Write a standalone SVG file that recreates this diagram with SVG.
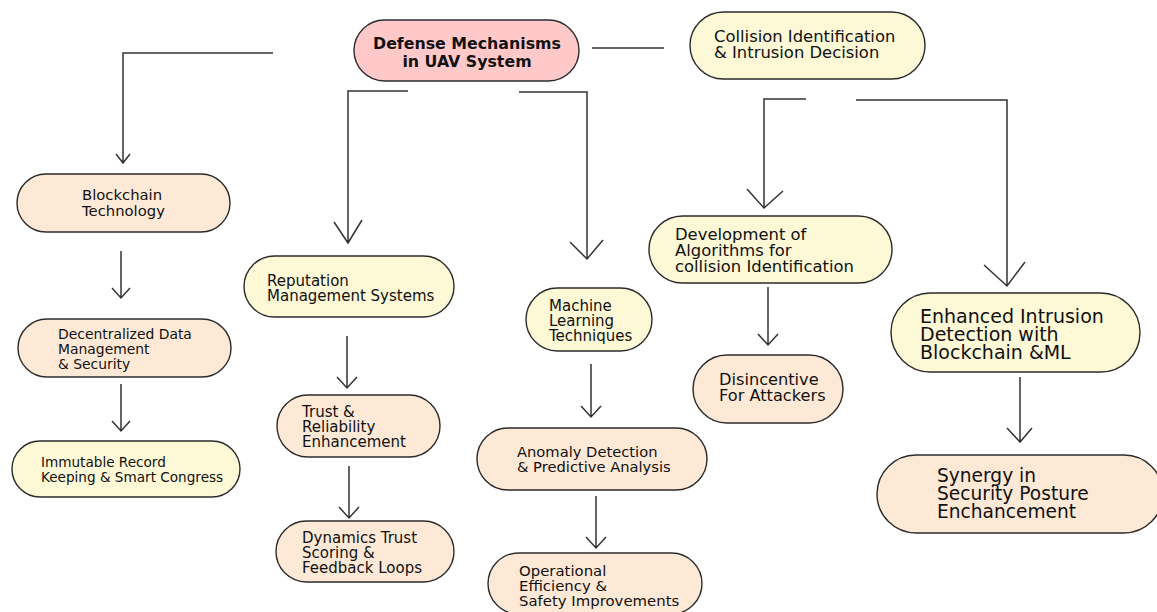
<svg xmlns="http://www.w3.org/2000/svg" width="1157" height="612" viewBox="0 0 1157 612">
<style>
.n{stroke:#2b2b2b;stroke-width:1.4}
.root{fill:#ffc9c9}
.y{fill:#fdf8d6}
.p{fill:#fde9d5}
text{font-family:"DejaVu Sans","Liberation Sans",sans-serif;fill:#111}
.b{font-weight:bold}
.c{fill:none;stroke:#333;stroke-width:1.5}
</style>
<rect width="1157" height="612" fill="#ffffff"/>
<g id="connectors">
<path class="c" d="M273,53 H123 V163 M116,154 L123,163 L130,154"/>
<path class="c" d="M408,91 H348 V243 M334,222 L348,243 L362,220"/>
<path class="c" d="M519,92 H587 V259 M570,242 L587,259 L603,240"/>
<path class="c" d="M592,48 H664"/>
<path class="c" d="M806,99 H764 V208 M747,189 L764,208 L783,191"/>
<path class="c" d="M856,100 H1007 V286 M984,265 L1007,286 L1025,262"/>
<path class="c" d="M121,251 V298 M112,288 L121,298 L130,288"/>
<path class="c" d="M121,384 V431 M112,421 L121,431 L130,421"/>
<path class="c" d="M347,336 V388 M337,377 L347,388 L357,377"/>
<path class="c" d="M349,466 V518 M339,507 L349,518 L359,507"/>
<path class="c" d="M591,364 V417 M581,406 L591,417 L601,406"/>
<path class="c" d="M596,496 V548 M586,537 L596,548 L606,537"/>
<path class="c" d="M768,287 V345 M758,334 L768,345 L778,334"/>
<path class="c" d="M1020,377 V442 M1007,428 L1020,442 L1032,428"/>
</g>
<g id="root">
<rect class="n root" x="354" y="20" width="225" height="61" rx="30.5"/>
<text class="b" x="467" y="49" font-size="15.8" text-anchor="middle">Defense Mechanisms</text>
<text class="b" x="467" y="67" font-size="15.8" text-anchor="middle">in UAV System</text>
</g>
<g id="collision">
<rect class="n y" x="690" y="12" width="235" height="67" rx="33.5"/>
<text x="714" y="42" font-size="16.4">Collision Identification</text>
<text x="714" y="58" font-size="16.4">&amp; Intrusion Decision</text>
</g>
<g id="blockchain">
<rect class="n p" x="17" y="174" width="213" height="58" rx="29"/>
<text x="82" y="200" font-size="14.8">Blockchain</text>
<text x="82" y="216" font-size="14.8">Technology</text>
</g>
<g id="decentralized">
<rect class="n p" x="18" y="319" width="213" height="58" rx="29"/>
<text x="58" y="339" font-size="13.9">Decentralized Data</text>
<text x="58" y="354" font-size="13.9">Management</text>
<text x="58" y="369" font-size="13.9">&amp; Security</text>
</g>
<g id="immutable">
<rect class="n y" x="12" y="441" width="228" height="56" rx="28"/>
<text x="41" y="467" font-size="13.6">Immutable Record</text>
<text x="41" y="482" font-size="13.6">Keeping &amp; Smart Congress</text>
</g>
<g id="reputation">
<rect class="n y" x="244" y="256" width="210" height="61" rx="30.5"/>
<text x="267" y="286" font-size="15">Reputation</text>
<text x="267" y="301" font-size="15">Management Systems</text>
</g>
<g id="trust">
<rect class="n p" x="277" y="395" width="163" height="62" rx="31"/>
<text x="302" y="417" font-size="15">Trust &amp;</text>
<text x="302" y="432" font-size="15">Reliability</text>
<text x="302" y="447" font-size="15">Enhancement</text>
</g>
<g id="dynamics">
<rect class="n p" x="276" y="521" width="178" height="61" rx="30.5"/>
<text x="302" y="543" font-size="15">Dynamics Trust</text>
<text x="302" y="558" font-size="15">Scoring &amp;</text>
<text x="302" y="573" font-size="15">Feedback Loops</text>
</g>
<g id="ml">
<rect class="n y" x="526" y="288" width="126" height="63" rx="31.5"/>
<text x="549" y="311" font-size="15">Machine</text>
<text x="549" y="326" font-size="15">Learning</text>
<text x="549" y="341" font-size="15">Techniques</text>
</g>
<g id="anomaly">
<rect class="n p" x="477" y="428" width="230" height="62" rx="31"/>
<text x="517" y="457" font-size="14.7">Anomaly Detection</text>
<text x="517" y="472" font-size="14.7">&amp; Predictive Analysis</text>
</g>
<g id="operational">
<rect class="n p" x="488" y="553" width="214" height="61" rx="30.5"/>
<text x="519" y="576" font-size="14.9">Operational</text>
<text x="519" y="591" font-size="14.9">Efficiency &amp;</text>
<text x="519" y="606" font-size="14.9">Safety Improvements</text>
</g>
<g id="development">
<rect class="n y" x="649" y="216" width="243" height="67" rx="33.5"/>
<text x="675" y="240" font-size="16.4">Development of</text>
<text x="675" y="256" font-size="16.4">Algorithms for</text>
<text x="675" y="272" font-size="16.4">collision Identification</text>
</g>
<g id="disincentive">
<rect class="n p" x="693" y="355" width="150" height="68" rx="34"/>
<text x="719" y="385" font-size="16.2">Disincentive</text>
<text x="719" y="401" font-size="16.2">For Attackers</text>
</g>
<g id="enhanced">
<rect class="n y" x="891" y="293" width="249" height="79" rx="39.5"/>
<text x="920" y="323" font-size="19">Enhanced Intrusion</text>
<text x="920" y="341" font-size="19">Detection with</text>
<text x="920" y="359" font-size="19">Blockchain &amp;ML</text>
</g>
<g id="synergy">
<rect class="n p" x="877" y="455" width="286" height="78" rx="39"/>
<text x="937" y="482" font-size="18.6">Synergy in</text>
<text x="937" y="500" font-size="18.6">Security Posture</text>
<text x="937" y="518" font-size="18.6">Enchancement</text>
</g>
</svg>
